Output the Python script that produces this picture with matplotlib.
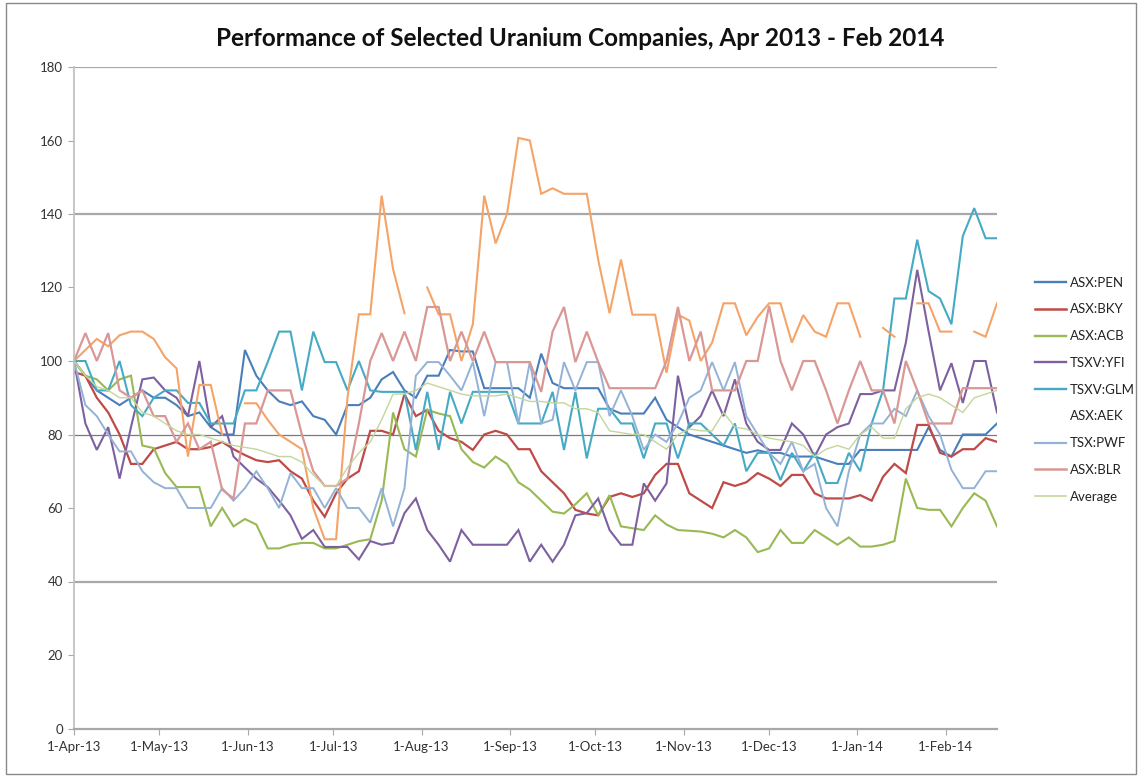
import numpy as np
import pandas as pd
import matplotlib
matplotlib.use("Agg")
import matplotlib.pyplot as plt
import matplotlib.dates as mdates
from matplotlib.lines import Line2D
from matplotlib.patches import Rectangle

plt.rcParams['font.family'] = ['Lato', 'DejaVu Sans']

# ---- data (index values, sampled every 4 days from 1-Apr-2013) ----
start_date = "2013-04-01"
n_points = 82
step = "4D"

pen = [100, 96, 92, 90, 88, 90, 92, 90, 90, 88,
       85, 86, 82, 80, 80, 103, 96, 92, 89, 88,
       89, 85, 84, 80, 88, 88, 90, 95, 97, 92,
       90, 96, 96, 103, 102.6, 102.6, 92.6, 92.6, 92.6, 92.6,
       90, 102, 94, 92.6, 92.6, 92.6, 92.6, 87, 85.7, 85.7,
       85.7, 90, 84, 82, 80, 79, 78, 77, 76, 75,
       75.7, 75, 75, 74, 74, 74, 73, 72, 72, 75.8,
       75.8, 75.8, 75.8, 75.8, 75.8, 82, 75.8, 74, 80, 80,
       80, 83]

bky = [97, 96, 90, 86, 80, 72, 72, 76, 77, 78,
       76, 76, 76.6, 78, 76, 74.4, 73, 72.5, 73, 70,
       68, 62, 57.6, 64, 68, 70, 81, 81, 80, 91,
       85, 86.7, 81, 79, 78, 75.8, 80, 81, 80, 76,
       76, 70, 67, 64, 59.5, 58.5, 58, 63, 64, 63,
       64, 69, 72, 72, 64, 62, 60, 67, 66, 67,
       69.5, 68, 66, 69, 69, 64, 62.6, 62.6, 62.6, 63.5,
       62, 68.5, 72, 69.5, 82.6, 82.6, 75, 74, 76, 76,
       79, 78]

acb = [100, 96, 95, 92, 95, 96, 77, 76.3, 69.5, 65.7,
       65.7, 65.7, 55, 60, 55, 57, 55.5, 49, 49, 50,
       50.5, 50.5, 49, 49, 50, 51, 51.5, 62, 86, 76,
       74, 86.7, 85.7, 85, 76, 72.5, 71, 74, 72, 67,
       65, 62, 59, 58.5, 61, 64, 58, 63.5, 55, 54.5,
       54, 58, 55.5, 54, 53.8, 53.6, 53, 52, 54, 52,
       48, 49, 54, 50.5, 50.5, 54, 52, 50, 52, 49.5,
       49.5, 50, 51, 68, 60, 59.5, 59.5, 55, 60, 64,
       62, 55]

yfi = [100, 83, 75.8, 82, 68, 82, 95, 95.5, 92, 90,
       85, 100, 82, 85, 74, 71, 68, 65.7, 62, 58,
       51.6, 54, 49.4, 49.4, 49.4, 46, 51, 50, 50.5, 58.6,
       62.6, 54, 50, 45.4, 54, 50, 50, 50, 50, 54,
       45.4, 50, 45.4, 50, 58, 58.6, 62.6, 54, 50, 50,
       66.7, 62, 66.7, 96, 82, 85, 92, 85, 95, 83,
       78, 75.8, 75.8, 83, 80, 74, 80, 82, 83, 91,
       91, 92, 92, 105, 124.8, 108, 92, 99.4, 88.6, 100,
       100, 86]

glm = [100, 100, 92, 92, 100, 88, 85, 90, 92, 92,
       88.6, 88.6, 83, 83, 83, 92, 92, 99.7, 108, 108,
       92, 108, 99.7, 99.7, 92, 100, 92, 91.6, 91.6, 91.6,
       75.8, 91.6, 75.8, 91.6, 83, 91.6, 91.6, 91.6, 91.6, 83,
       83, 83, 91.6, 75.8, 91.6, 73.5, 87, 87, 83, 83,
       73.5, 83, 83, 73.5, 83, 83, 80, 77, 83, 70,
       75, 75, 67.6, 75, 70, 75, 66.8, 66.8, 75, 70,
       83, 92, 117, 117, 133, 119, 117, 110, 134, 141.6,
       133.4, 133.4]

aek = [100, 103, 106, 104, 107, 108, 108, 106, 101, 98,
       74, 93.5, 93.5, 80, np.nan, 88.5, 88.5, 84, 80, 78,
       76, 60, 51.5, 51.5, 90, 112.7, 112.7, 145, 125, 113,
       np.nan, 120, 112.7, 112.7, 100, 110, 145, 132, 140, 160.7,
       160, 145.5, 147, 145.5, 145.5, 145.5, 127.6, 113, 127.6, 112.6,
       112.6, 112.6, 96.8, 112.6, 111, 100, 105, 115.7, 115.7, 107,
       112, 115.7, 115.7, 105, 112.5, 108, 106.6, 115.7, 115.7, 106.6,
       np.nan, 109, 106.6, np.nan, 115.7, 115.7, 108, 108, np.nan, 108,
       106.6, 115.7]

pwf = [100, 88, 85, 80, 75.4, 75.4, 70, 67, 65.4, 65.4,
       60, 60, 60, 65.4, 62, 65.4, 70, 65.4, 60, 69.5,
       65.4, 65.4, 60, 65.4, 60, 60, 56, 65.4, 55, 65.4,
       96, 99.7, 99.7, 96, 92, 99.7, 85, 99.7, 99.7, 83,
       99.7, 83, 84, 99.7, 92, 99.7, 99.7, 85, 92, 85,
       75.8, 80, 78, 83, 90, 92, 99.7, 92, 99.7, 85,
       80, 75, 72, 78, 70, 72, 60, 55, 70, 80,
       83, 83, 87, 85, 92, 85, 80, 70.4, 65.4, 65.4,
       70, 70]

blr = [100, 107.6, 100, 107.6, 92, 90, 92, 85, 85, 78,
       83, 76, 78, 65, 62.6, 83, 83, 92, 92, 92,
       80, 70, 66, 66, 68, 83, 100, 107.6, 100, 108,
       100, 114.7, 114.7, 100, 108, 100, 108, 99.7, 99.7, 99.7,
       99.7, 91.6, 108, 114.7, 99.7, 108, 99.7, 92.6, 92.6, 92.6,
       92.6, 92.6, 100, 114.7, 100, 108, 92, 92, 92, 100,
       100, 115, 100, 92, 100, 100, 92, 83, 92, 100,
       92, 92, 83, 100, 92, 83, 83, 83, 92.6, 92.6,
       92.6, 92.6]

average = [100, 96, 93, 92, 90, 90, 86, 85, 83, 81,
           80, 80, 79, 78, 77, 76.5, 76, 75, 74, 74,
           72.5, 69, 66, 66, 71, 75, 78, 84, 91, 91,
           92, 94, 93, 92, 91, 90.5, 90.5, 90.5, 91, 90,
           89, 89, 88.6, 88.6, 87, 87, 86, 81, 80.5, 80,
           80, 78, 76, 80, 81.5, 81, 81, 86, 82, 81.5,
           80, 79, 78.5, 78, 77, 74, 76, 77, 76, 80,
           82, 79, 79, 87, 90, 91, 90, 88, 86, 90,
           91, 92]

labels = ["ASX:PEN", "ASX:BKY", "ASX:ACB", "TSXV:YFI", "TSXV:GLM",
          "ASX:AEK", "TSX:PWF", "ASX:BLR", "Average"]
y_ticks = [0, 20, 40, 60, 80, 100, 120, 140, 160, 180]

dates = pd.date_range(start_date, periods=n_points, freq=step)

series = [pen, bky, acb, yfi, glm, aek, pwf, blr, average]
colors = ['#4A7EBB', '#BE4B48', '#98B954', '#7D60A0', '#46AAC5',
          '#F5A468', '#94B2D6', '#D99795', '#C3D69B']
widths = [1.5, 1.6, 1.5, 1.5, 1.5, 1.5, 1.4, 1.6, 1.0]

W, H = 1140, 776
fig = plt.figure(figsize=(W / 100, H / 100), dpi=100)
ax = fig.add_axes([74 / W, 1 - 728.5 / H, (997 - 74) / W, (728.5 - 67) / H])

# gridlines as they appear
for v, c, lw in [(40, '#A8A8A8', 1.6), (140, '#A8A8A8', 1.6),
                 (180, '#A8A8A8', 1.6), (80, '#7A7A7A', 0.9)]:
    ax.axhline(v, color=c, lw=lw, zorder=1)

handles = []
for vals, lab, col, lw in zip(series, labels, colors, widths):
    ln, = ax.plot(dates, vals, color=col, lw=lw, label=lab, zorder=2,
                  solid_joinstyle='miter')
    handles.append(ln)

# legend (AEK shows no swatch in the reference)
leg_handles = []
for h, lab in zip(handles, labels):
    if lab == "ASX:AEK":
        leg_handles.append(Line2D([], [], color='none'))
    else:
        leg_handles.append(Line2D([], [], color=h.get_color(),
                                  lw=h.get_linewidth() + 0.2))
ax.legend(leg_handles, labels, loc='upper left',
          bbox_to_anchor=(1028 / W, 1 - 270 / H),
          bbox_transform=fig.transFigure, frameon=False,
          fontsize=9.5, handlelength=2.4, handletextpad=0.3,
          labelspacing=1.12, borderpad=0, labelcolor='#222222')

ax.set_ylim(0, 180)
ax.set_yticks(y_ticks)
ax.set_xlim(pd.Timestamp(start_date), pd.Timestamp(start_date) + pd.Timedelta(days=324))
ax.xaxis.set_major_locator(mdates.MonthLocator())
ax.xaxis.set_major_formatter(
    matplotlib.ticker.FuncFormatter(
        lambda x, p: (lambda d: f"{d.day}-{d:%b-%y}")(mdates.num2date(x))))

for s in ['top', 'right']:
    ax.spines[s].set_visible(False)
ax.spines['left'].set_color('#BEBEBE')
ax.spines['left'].set_linewidth(1.2)
ax.spines['bottom'].set_color('#A8A8A8')
ax.spines['bottom'].set_linewidth(1.6)
ax.tick_params(axis='both', direction='out', length=4, color='#A8A8A8',
               labelsize=9.5, labelcolor='#333333')
ax.tick_params(axis='x', pad=5)
ax.tick_params(axis='y', pad=4)

fig.text(580 / W, 1 - 38 / H,
         "Performance of Selected Uranium Companies, Apr 2013 - Feb 2014",
         ha='center', va='center', fontsize=17.5, fontweight='bold',
         color='#111111')

fig.patches.append(Rectangle((6 / W, 2 / H), 1130 / W, 771 / H,
                             transform=fig.transFigure, fill=False,
                             edgecolor='#8A8A8A', lw=1.0))

fig.savefig("out.png", dpi=100)
